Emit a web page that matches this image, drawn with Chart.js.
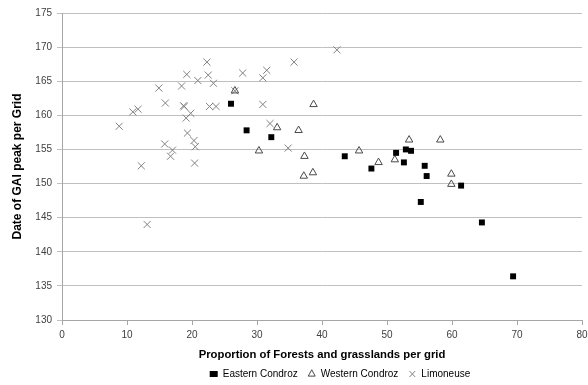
<!DOCTYPE html>
<html>
<head>
<meta charset="utf-8">
<script src="https://cdn.jsdelivr.net/npm/chart.js@4/dist/chart.umd.min.js"></script>
<style>
  html, body { margin: 0; padding: 0; background: #fff; }
  #wrap { width: 588px; height: 385px; }
</style>
</head>
<body>
<div id="wrap"><canvas id="c" width="588" height="385"></canvas></div>
<script>
// Share of forests and grasslands per grid (%) vs. date of GAI peak (day of year)
const easternX = [26.0, 28.4, 32.2, 43.5, 47.6, 51.4, 52.6, 52.9, 53.7, 55.2, 55.8, 56.1, 61.4, 64.6, 69.4];
const easternY = [161.7, 157.8, 156.8, 154.0, 152.2, 154.5, 153.1, 155.0, 154.8, 147.3, 152.6, 151.1, 149.7, 144.3, 136.4];

const westernX = [26.6, 30.3, 33.1, 36.4, 37.3, 37.2, 38.6, 38.7, 45.7, 48.7, 51.2, 53.4, 58.2, 59.9, 59.9];
const westernY = [163.6, 154.8, 158.2, 157.8, 154.0, 151.1, 151.6, 161.6, 154.8, 153.1, 153.5, 156.4, 156.4, 151.4, 149.9];

const limoneuseX = [8.8, 10.9, 11.7, 12.2, 13.1, 14.9, 15.9, 15.8, 17.0, 16.7, 18.4, 19.2, 18.7, 18.8, 19.1, 19.3, 19.8, 20.3,
                    20.5, 20.4, 20.9, 22.3, 22.5, 23.3, 22.7, 23.7, 26.6, 27.8, 30.9, 31.5, 30.9, 32.0, 34.8, 35.7, 42.3];
const limoneuseY = [158.4, 160.5, 160.9, 152.6, 144.0, 164.0, 161.8, 155.8, 154.9, 154.0, 164.3, 166.0, 161.4, 161.3, 159.6, 157.4, 160.3, 156.3,
                    155.4, 153.0, 165.1, 167.8, 165.9, 164.7, 161.3, 161.3, 163.6, 166.2, 165.5, 166.6, 161.6, 158.8, 155.2, 167.8, 169.6];

const seriesNames = ['Eastern Condroz', 'Western Condroz', 'Limoneuse'];
const xTitle = 'Proportion of Forests and grasslands per grid';
const yTitle = 'Date of GAI peak per Grid';

const toPoints = (xs, ys) => xs.map((x, i) => ({ x, y: ys[i] }));

const FONT = "'Liberation Sans', Arial, sans-serif";

// moves the legend so it sits under the plot, slightly right of centre
const legendPlacer = {
  id: 'legendPlacer',
  afterLayout(chart) {
    const l = chart.legend, a = chart.chartArea;
    const dx = (a.left + a.right) / 2 + 18 - (l.left + l.right) / 2;
    l.left += dx; l.right += dx;
    l.top -= 4; l.bottom -= 4;
  }
};

new Chart(document.getElementById('c'), {
  type: 'scatter',
  data: {
    datasets: [
      {
        label: seriesNames[0],
        data: toPoints(easternX, easternY),
        pointStyle: 'rect',
        radius: 4.2,
        backgroundColor: '#000',
        borderColor: '#000',
        borderWidth: 0
      },
      {
        label: seriesNames[1],
        data: toPoints(westernX, westernY),
        pointStyle: 'triangle',
        radius: 4.3,
        backgroundColor: 'rgba(255,255,255,0)',
        borderColor: '#4a4a4a',
        borderWidth: 1
      },
      {
        label: seriesNames[2],
        data: toPoints(limoneuseX, limoneuseY),
        pointStyle: 'crossRot',
        radius: 5,
        backgroundColor: '#808080',
        borderColor: '#808080',
        borderWidth: 1
      }
    ]
  },
  options: {
    responsive: false,
    animation: false,
    devicePixelRatio: 1,
    layout: { padding: { top: 13, right: 4, bottom: 0, left: 0 } },
    plugins: {
      tooltip: { enabled: false },
      legend: {
        position: 'bottom',
        maxHeight: 22,
        labels: {
          usePointStyle: true,
          pointStyleWidth: 8,
          boxHeight: 6,
          padding: 10,
          color: '#000',
          font: { family: FONT, size: 10 }
        }
      }
    },
    scales: {
      x: {
        type: 'linear',
        min: 0,
        max: 80,
        ticks: { stepSize: 10, color: '#404040', padding: 4, font: { family: FONT, size: 10 } },
        grid: { drawOnChartArea: false, drawTicks: true, tickLength: 5, color: '#a6a6a6' },
        border: { display: true, color: '#a6a6a6', width: 1 },
        title: {
          display: true,
          text: xTitle,
          color: '#000',
          font: { family: FONT, size: 11.3, weight: 'bold' },
          padding: { top: 4, bottom: 1 }
        },
        afterFit(scale) {
          scale.height = 43;
          scale.paddingLeft = 0;
          scale.paddingRight = 0;
        }
      },
      y: {
        type: 'linear',
        min: 130,
        max: 175,
        ticks: { stepSize: 5, color: '#404040', padding: 5, font: { family: FONT, size: 10 } },
        grid: { color: '#c0c0c0', tickLength: 5, drawTicks: true },
        border: { display: true, color: '#a6a6a6', width: 1 },
        title: {
          display: true,
          text: yTitle,
          color: '#000',
          font: { family: FONT, size: 12, weight: 'bold' },
          padding: { top: 10, bottom: 0 }
        },
        afterFit(scale) {
          scale.width = 62;
          scale.paddingTop = 0;
          scale.paddingBottom = 0;
        }
      }
    }
  },
  plugins: [legendPlacer]
});
</script>
</body>
</html>
